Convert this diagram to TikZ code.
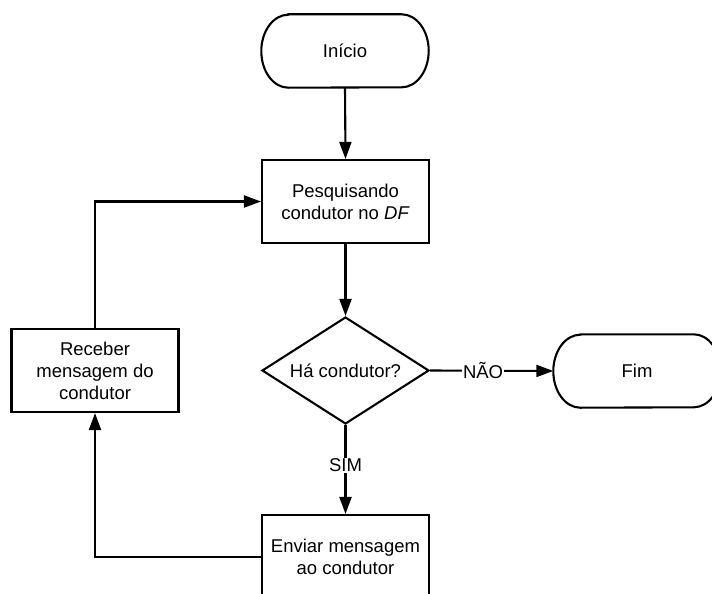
\documentclass[tikz,border=0pt]{standalone}
\usepackage{fontspec}
\setmainfont{Liberation Sans}
\usetikzlibrary{arrows.meta,shapes.geometric}

\tikzset{
  flow/.style={line width=2.1pt, draw=black},
  arrowline/.style={flow, -{Triangle[length=17pt,width=12pt]}},
  procbox/.style={flow, rectangle, minimum width=167pt, minimum height=83pt,
    inner sep=0pt, align=center, font=\fontsize{18.5pt}{22pt}\selectfont},
  termtext/.style={rectangle, minimum width=167pt, minimum height=73pt,
    inner sep=0pt, font=\fontsize{18.5pt}{22pt}\selectfont},
  decision/.style={flow, diamond, minimum width=167pt, minimum height=107pt,
    aspect=1.56, inner sep=0pt, font=\fontsize{18.5pt}{22pt}\selectfont},
  edgelabel/.style={fill=white, inner sep=1pt, font=\fontsize{18.5pt}{22pt}\selectfont},
}

% terminal outline with elliptical ends drawn around a node
\newcommand{\terminal}[1]{%
  \draw[flow] ([xshift=27pt]#1.north west) -- ([xshift=-27pt]#1.north east)
    arc[start angle=90, end angle=-90, x radius=27pt, y radius=36.5pt]
    -- ([xshift=27pt]#1.south west)
    arc[start angle=270, end angle=90, x radius=27pt, y radius=36.5pt]
    -- cycle;}

\begin{document}
\begin{tikzpicture}[x=1pt, y=-1pt]
  \useasboundingbox (0,0) rectangle (712,594);
  \clip (0,0) rectangle (712,594);
  \fill[white] (0,0) rectangle (712,594);

  % nodes
  \node[termtext] (start) at (345,51) {Início};
  \terminal{start}
  \node[procbox] (search) at (345.5,201.5) {Pesquisando\\condutor no \textit{DF}};
  \node[decision] (decide) at (345.5,370.5) {Há condutor?};
  \node[termtext] (finish) at (637,371) {Fim};
  \terminal{finish}
  \node[procbox, minimum height=84pt] (send) at (345.5,557) {Enviar mensagem\\ao condutor};
  \node[procbox] (recv) at (95,370.5) {Receber\\mensagem do\\condutor};

  % connectors
  \draw[arrowline] (start.south) -- (search.north);
  \draw[arrowline] (search.south) -- (decide.north);
  \draw[arrowline] (decide.east) -- node[edgelabel, pos=0.43] {NÃO} (finish.west);
  \draw[arrowline] (decide.south) -- node[edgelabel, pos=0.45] {SIM} (send.north);
  \draw[arrowline] (send.west) -| (recv.south);
  \draw[arrowline] (recv.north) |- (search.west);
\end{tikzpicture}
\end{document}
